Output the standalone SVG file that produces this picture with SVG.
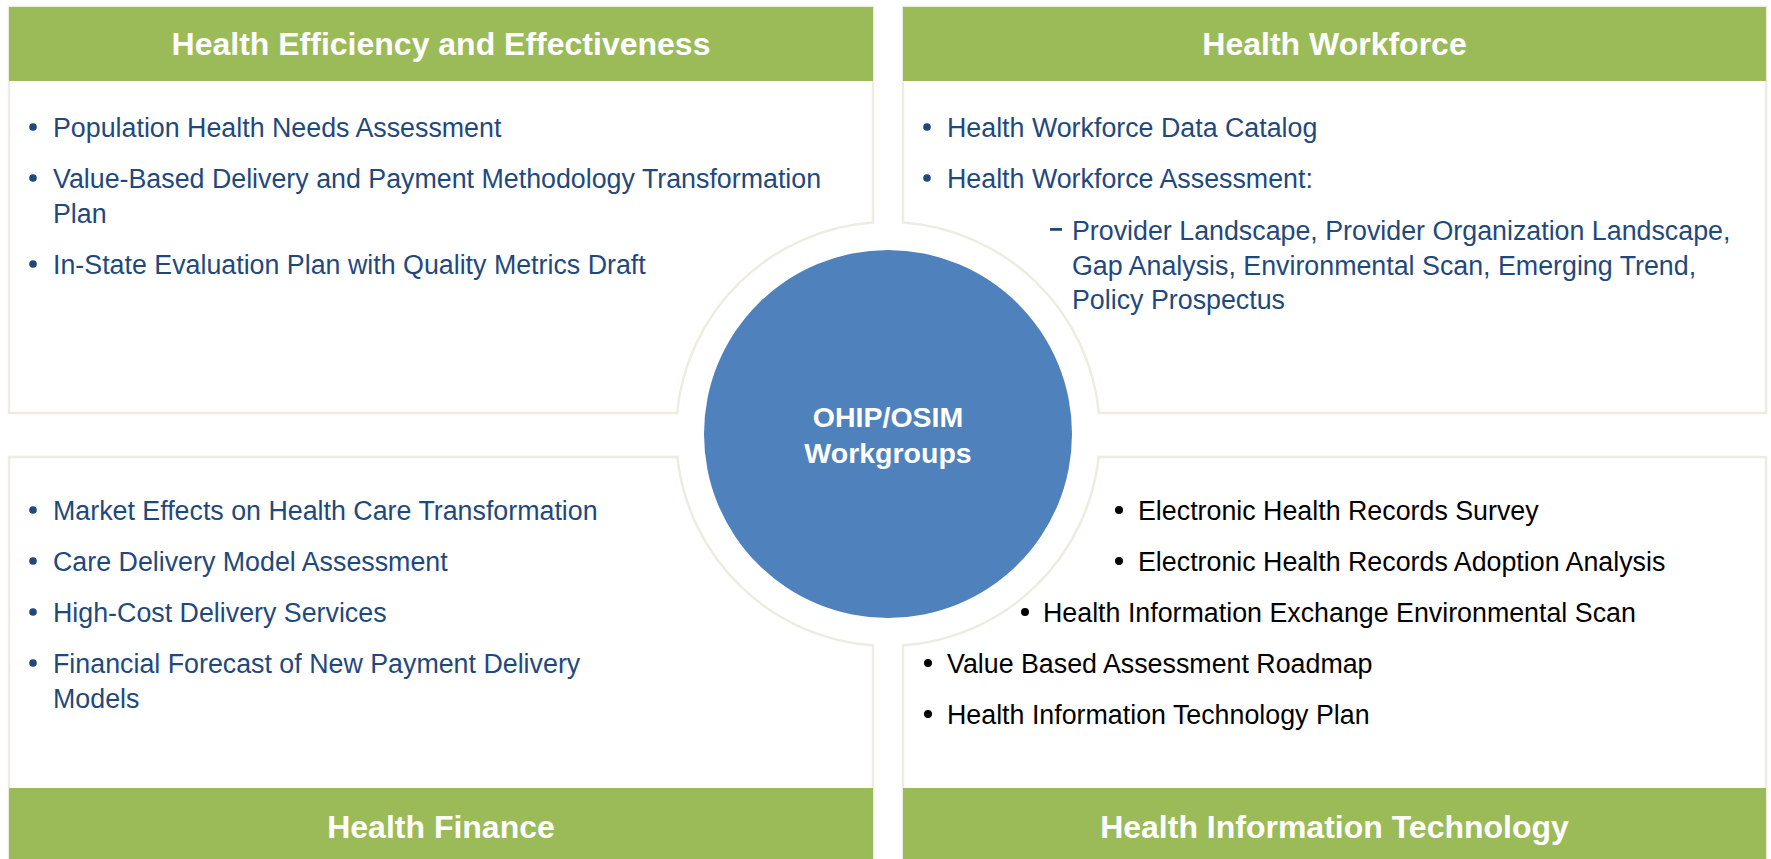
<svg xmlns="http://www.w3.org/2000/svg" width="1771" height="859" viewBox="0 0 1771 859">
<style>
.box{fill:#FFFFFF;stroke:#EEECE1;stroke-width:2.5}
.band{fill:#9BBB59}
.hdr{font-family:"Liberation Sans",Arial,sans-serif;font-weight:bold;font-size:32px;fill:#FFFFFF;text-anchor:middle}
.t{font-family:"Liberation Sans",Arial,sans-serif;font-size:26.8px;fill:#1F497D}
.k{font-family:"Liberation Sans",Arial,sans-serif;font-size:26.8px;fill:#000000}
.bb{fill:#1F497D}
.bk{fill:#000000}
.ctr{font-family:"Liberation Sans",Arial,sans-serif;font-weight:bold;font-size:28.5px;fill:#FFFFFF;text-anchor:middle}
</style>
<rect width="1771" height="859" fill="#FFFFFF"/>

<g id="health-efficiency">
<path class="box" d="M9,7 H873 V222.5 A212,212 0 0,0 677,413 H9 Z"/>
<rect class="band" x="9" y="7" width="864" height="74"/>
<text class="hdr" x="441" y="55">Health Efficiency and Effectiveness</text>
<circle class="bb" cx="33" cy="127" r="3.8"/>
<text class="t" x="53" y="137">Population Health Needs Assessment</text>
<circle class="bb" cx="33" cy="178" r="3.8"/>
<text class="t" x="53" y="188">Value-Based Delivery and Payment Methodology Transformation</text>
<text class="t" x="53" y="223">Plan</text>
<circle class="bb" cx="33" cy="264" r="3.8"/>
<text class="t" x="53" y="274">In-State Evaluation Plan with Quality Metrics Draft</text>
</g>

<g id="health-workforce">
<path class="box" d="M903,7 H1766 V413 H1099 A212,212 0 0,0 903,222.5 Z"/>
<rect class="band" x="903" y="7" width="863" height="74"/>
<text class="hdr" x="1334.5" y="55">Health Workforce</text>
<circle class="bb" cx="927" cy="127" r="3.8"/>
<text class="t" x="947" y="137">Health Workforce Data Catalog</text>
<circle class="bb" cx="927" cy="178" r="3.8"/>
<text class="t" x="947" y="188">Health Workforce Assessment:</text>
<rect class="bb" x="1050" y="228" width="12" height="2.8"/>
<text class="t" x="1072" y="240">Provider Landscape, Provider Organization Landscape,</text>
<text class="t" x="1072" y="275">Gap Analysis, Environmental Scan, Emerging Trend,</text>
<text class="t" x="1072" y="309">Policy Prospectus</text>
</g>

<g id="health-finance">
<path class="box" d="M9,457 H677.3 A212,212 0 0,0 873,645.5 V859 H9 Z"/>
<rect class="band" x="9" y="788" width="864" height="71"/>
<text class="hdr" x="441" y="838">Health Finance</text>
<circle class="bb" cx="33" cy="510" r="3.8"/>
<text class="t" x="53" y="520">Market Effects on Health Care Transformation</text>
<circle class="bb" cx="33" cy="561" r="3.8"/>
<text class="t" x="53" y="571">Care Delivery Model Assessment</text>
<circle class="bb" cx="33" cy="612" r="3.8"/>
<text class="t" x="53" y="622">High-Cost Delivery Services</text>
<circle class="bb" cx="33" cy="663" r="3.8"/>
<text class="t" x="53" y="673">Financial Forecast of New Payment Delivery</text>
<text class="t" x="53" y="708">Models</text>
</g>

<g id="health-it">
<path class="box" d="M903,645.5 A212,212 0 0,0 1098.7,457 H1766 V859 H903 Z"/>
<rect class="band" x="903" y="788" width="863" height="71"/>
<text class="hdr" x="1334.5" y="838">Health Information Technology</text>
<circle class="bk" cx="1119" cy="510" r="4"/>
<text class="k" x="1138" y="520">Electronic Health Records Survey</text>
<circle class="bk" cx="1119" cy="561" r="4"/>
<text class="k" x="1138" y="571">Electronic Health Records Adoption Analysis</text>
<circle class="bk" cx="1025" cy="612" r="4"/>
<text class="k" x="1043" y="622">Health Information Exchange Environmental Scan</text>
<circle class="bk" cx="928" cy="663" r="4"/>
<text class="k" x="947" y="673">Value Based Assessment Roadmap</text>
<circle class="bk" cx="928" cy="714" r="4"/>
<text class="k" x="947" y="724">Health Information Technology Plan</text>
</g>

<g id="center">
<circle cx="888" cy="434" r="184" fill="#4F81BD"/>
<text class="ctr" x="888" y="427">OHIP/OSIM</text>
<text class="ctr" x="888" y="463">Workgroups</text>
</g>

<g id="connectors"></g>
</svg>
